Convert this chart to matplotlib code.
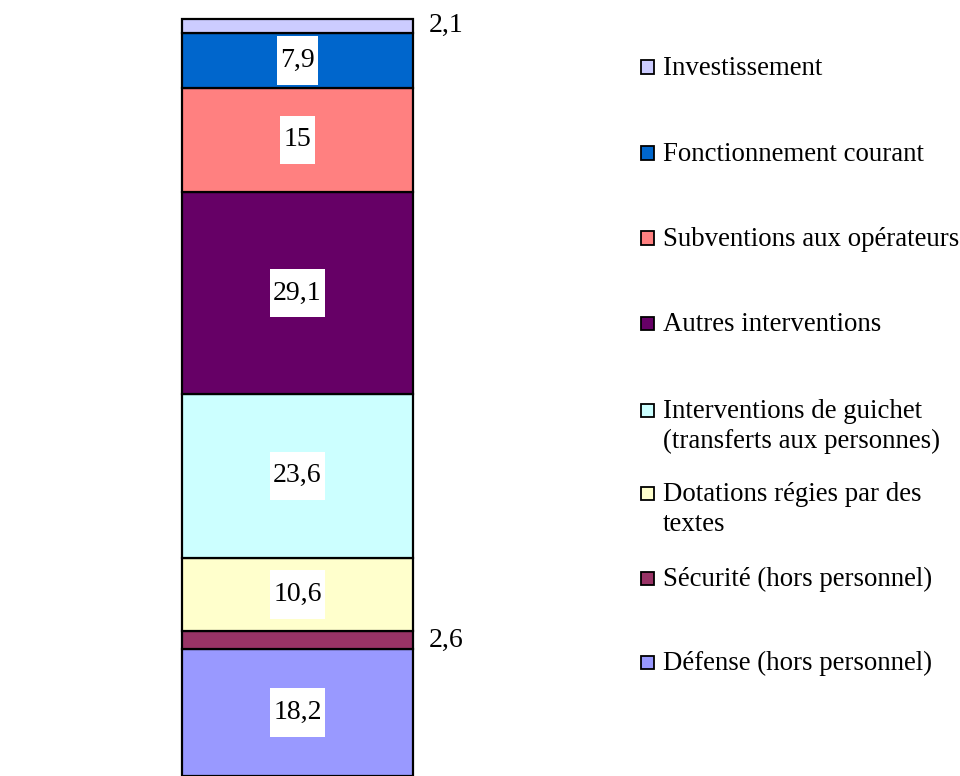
import matplotlib
matplotlib.use("Agg")
import matplotlib.pyplot as plt
from matplotlib.patches import Rectangle
from matplotlib.path import Path

# Budget breakdown, bottom of the stack first
categories = [
    "Défense (hors personnel)",
    "Sécurité (hors personnel)",
    "Dotations régies par des\ntextes",
    "Interventions de guichet\n(transferts aux personnes)",
    "Autres interventions",
    "Subventions aux opérateurs",
    "Fonctionnement courant",
    "Investissement",
]
values = [18.2, 2.6, 10.6, 23.6, 29.1, 15, 7.9, 2.1]
value_labels = ["18,2", "2,6", "10,6", "23,6", "29,1", "15", "7,9", "2,1"]
colors = ["#9999FF", "#993366", "#FFFFCC", "#CCFFFF", "#660066",
          "#FF8080", "#0066CC", "#CCCCFF"]
# thin segments get their label outside the bar
outside = [False, True, False, False, False, False, False, True]

plt.rcParams["font.family"] = ["Liberation Serif", "DejaVu Serif"]
FS = 20
FS_LEG = 19.4

W, H = 960, 776
fig = plt.figure(figsize=(W / 100, H / 100), dpi=100)
ax = fig.add_axes([182 / W, 0.5 / H, (413 - 182) / W, (775 - 18) / H])


def tall_box(x0, y0, width, height, mutation_size):
    px = 0.12 * mutation_size
    py = 0.42 * mutation_size
    x0, y0 = x0 - px, y0 - py
    x1, y1 = x0 + width + 2 * px, y0 + height + 2 * py
    return Path([(x0, y0), (x1, y0), (x1, y1), (x0, y1), (x0, y0)],
                closed=True)


total = sum(values)
bottom = 0
for v, c, lab, out in zip(values, colors, value_labels, outside):
    ax.bar(0, v, bottom=bottom, width=1.0, color=c, edgecolor="black",
           linewidth=1.6, clip_on=False)
    mid = bottom + v / 2
    if out:
        ax.annotate(lab, (0.5, mid), xytext=(11, 0), textcoords="offset points",
                    ha="left", va="center", fontsize=FS, annotation_clip=False)
    else:
        ax.text(0, mid, lab, ha="center", va="center", fontsize=FS,
                bbox=dict(boxstyle=tall_box, facecolor="white",
                          edgecolor="none"))
    bottom += v

ax.set_xlim(-0.5, 0.5)
ax.set_ylim(0, total)
ax.axis("off")

# Legend, top entry first
legend_y = [67, 153, 238, 323, 410, 493, 578, 662]
line_gap = 30
for cat, c, y in zip(categories[::-1], colors[::-1], legend_y):
    fig.patches.append(Rectangle((641 / W, 1 - (y + 6.5) / H), 13 / W, 13 / H,
                                 transform=fig.transFigure, facecolor=c,
                                 edgecolor="black", linewidth=1.3))
    for i, line in enumerate(cat.split("\n")):
        fig.text(663 / W, 1 - (y + 8 + i * line_gap) / H, line,
                 ha="left", va="baseline", fontsize=FS_LEG)

fig.savefig("out.png", dpi=100)
